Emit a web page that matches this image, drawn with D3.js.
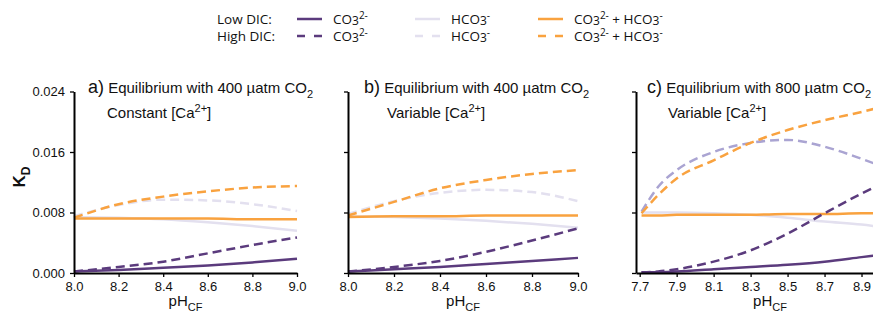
<!DOCTYPE html>
<html>
<head>
<meta charset="utf-8">
<script src="https://cdn.jsdelivr.net/npm/d3@7"></script>
<style>
  body { margin: 0; background: #fff; }
  svg { display: block; }
</style>
</head>
<body>
<svg id="chart" width="873" height="324"></svg>
<script>
// pH grids (x values) for each panel
const phAB = [8.0, 8.2, 8.4, 8.6, 8.8, 9.0];
const phC  = [7.71, 7.8, 7.9, 8.1, 8.3, 8.5, 8.7, 8.9, 9.0];

// a) 400 uatm, constant Ca
const co3LowA   = [0.0002, 0.0004, 0.0007, 0.0010, 0.0014, 0.0019];
const hco3LowA  = [0.0074, 0.0073, 0.0071, 0.0067, 0.0062, 0.0056];
const sumLowA   = [0.0072, 0.0072, 0.0072, 0.0072, 0.0071, 0.0071];
const co3HighA  = [0.0002, 0.0008, 0.0015, 0.0026, 0.0037, 0.0047];
const hco3HighA = [0.0075, 0.0090, 0.0097, 0.0096, 0.0091, 0.0082];
const sumHighA  = [0.0073, 0.0091, 0.0101, 0.0108, 0.0113, 0.0115];

// b) 400 uatm, variable Ca
const co3LowB   = [0.0002, 0.0005, 0.0008, 0.0012, 0.0016, 0.0020];
const hco3LowB  = [0.0075, 0.0074, 0.0072, 0.0069, 0.0065, 0.0060];
const sumLowB   = [0.0074, 0.0075, 0.0075, 0.0076, 0.0076, 0.0076];
const co3HighB  = [0.0002, 0.0008, 0.0016, 0.0028, 0.0043, 0.0059];
const hco3HighB = [0.0078, 0.0095, 0.0106, 0.0110, 0.0107, 0.0095];
const sumHighB  = [0.0076, 0.0094, 0.0112, 0.0123, 0.0131, 0.0136];

// c) 800 uatm, variable Ca
const co3LowC   = [0.0001, 0.0001, 0.0002, 0.0005, 0.0008, 0.0011, 0.0015, 0.0021, 0.0024];
const hco3LowC  = [0.0080, 0.0080, 0.0080, 0.0079, 0.0077, 0.0073, 0.0068, 0.0064, 0.0061];
const sumLowC   = [0.0076, 0.0076, 0.0077, 0.0077, 0.0077, 0.0078, 0.0078, 0.0079, 0.0079];
const co3HighC  = [0.0001, 0.0002, 0.0005, 0.0015, 0.0030, 0.0052, 0.0079, 0.0105, 0.0117];
const hco3HighC = [0.0081, 0.0114, 0.0136, 0.0160, 0.0172, 0.0176, 0.0167, 0.0151, 0.0142];
const sumHighC  = [0.0079, 0.0103, 0.0125, 0.0149, 0.0172, 0.0189, 0.0202, 0.0213, 0.0219];

const yTicks  = [0, 0.008, 0.016, 0.024];
const xTicksAB = [8.0, 8.2, 8.4, 8.6, 8.8, 9.0];
const xTicksC  = [7.7, 7.9, 8.1, 8.3, 8.5, 8.7, 8.9];

const PURPLE = "#5b3b7d";
const LAV    = "#e3e0ef";
const LAVMID = "#aaa4d2";
const ORANGE = "#f9a23f";
const FONT   = "'Liberation Sans', Arial, sans-serif";

const svg = d3.select("#chart");
const y = d3.scaleLinear().domain([0, 0.024]).range([273, 91.5]);

// text with sub/superscripts: parts = [[text, "n"|"sub"|"sup", size?], ...]
function rich(sel, parts, base) {
  let shift = 0;
  parts.forEach(([t, kind, size]) => {
    const target = kind === "sub" ? 0.3 * base : kind === "sup" ? -0.4 * base : 0;
    sel.append("tspan")
      .attr("dy", target - shift)
      .attr("font-size", size || (kind === "n" ? base : base * 0.72))
      .text(t);
    shift = target;
  });
  return sel;
}

const panels = [
  { x: phAB, domain: [8, 9], range: [74, 297], ticks: xTicksAB,
    tag: "a)", co2: "400", sub: "Constant [Ca", labels: true, hcoDash: LAV, tx: 14, sx: 33, lx: 0,
    s: [hco3HighA, hco3LowA, sumLowA, sumHighA, co3HighA, co3LowA] },
  { x: phAB, domain: [8, 9], range: [348, 578], ticks: xTicksAB,
    tag: "b)", co2: "400", sub: "Variable [Ca", labels: false, hcoDash: LAV, tx: 16, sx: 39, lx: 0,
    s: [hco3HighB, hco3LowB, sumLowB, sumHighB, co3HighB, co3LowB] },
  { x: phC, domain: [7.68, 9.0], range: [636, 880], ticks: xTicksC,
    tag: "c)", co2: "800", sub: "Variable [Ca", labels: false, hcoDash: LAVMID, tx: 11, sx: 32, lx: 12,
    s: [hco3HighC, hco3LowC, sumLowC, sumHighC, co3HighC, co3LowC] },
];

panels.forEach(p => {
  const x = d3.scaleLinear().domain(p.domain).range(p.range);
  const g = svg.append("g");
  const x0 = p.range[0];

  const styles = [
    { c: p.hcoDash, dash: "9,5" },
    { c: LAV,       dash: null },
    { c: ORANGE,    dash: null },
    { c: ORANGE,    dash: "9,5" },
    { c: PURPLE,    dash: "9,5" },
    { c: PURPLE,    dash: null },
  ];
  const line = d3.line().x((d, i) => x(p.x[i])).y(d => y(d)).curve(d3.curveMonotoneX);
  p.s.forEach((vals, k) => {
    g.append("path")
      .attr("d", line(vals))
      .attr("fill", "none")
      .attr("stroke", styles[k].c)
      .attr("stroke-width", 2.5)
      .attr("stroke-dasharray", styles[k].dash);
  });

  const yAxis = d3.axisLeft(y).tickValues(yTicks).tickSize(4).tickSizeOuter(0).tickPadding(5)
    .tickFormat(p.labels ? d3.format(".3f") : "");
  const ya = g.append("g").attr("transform", `translate(${x0},0)`).call(yAxis)
    .attr("font-family", FONT).attr("font-size", 13);
  ya.select(".domain").attr("stroke-width", 2);
  ya.selectAll(".tick line").attr("stroke-width", 1.3);
  ya.selectAll(".tick text").attr("fill", "#111");

  const xAxis = d3.axisBottom(x).tickValues(p.ticks).tickSize(4).tickSizeOuter(0).tickPadding(5)
    .tickFormat(d3.format(".1f"));
  const xa = g.append("g").attr("transform", "translate(0,273)").call(xAxis)
    .attr("font-family", FONT).attr("font-size", 13);
  xa.select(".domain").attr("stroke-width", 2);
  xa.selectAll(".tick line").attr("stroke-width", 1.3);
  xa.selectAll(".tick text").attr("fill", "#111");

  // panel title
  const t = g.append("text").attr("x", x0 + p.tx).attr("y", 93)
    .attr("font-family", FONT).attr("fill", "#111");
  rich(t, [[p.tag, "n", 18], [" Equilibrium with " + p.co2 + " \u00b5atm CO", "n"], ["2", "sub", 11]], 15);

  const st = g.append("text").attr("x", x0 + p.sx).attr("y", 118)
    .attr("font-family", FONT).attr("fill", "#111");
  rich(st, [[p.sub, "n"], ["2+", "sup", 11], ["]", "n"]], 15);

  // x title
  const xt = g.append("text").attr("x", (p.range[0] + p.range[1]) / 2 + p.lx).attr("y", 306)
    .attr("text-anchor", "middle")
    .attr("font-family", FONT).attr("fill", "#111");
  rich(xt, [["pH", "n"], ["CF", "sub", 11]], 15);
});

// y title
const yt = svg.append("text").attr("transform", "translate(25,177) rotate(-90)")
  .attr("text-anchor", "middle").attr("font-weight", "bold")
  .attr("font-family", FONT).attr("fill", "#111");
rich(yt, [["K", "n"], ["D", "sub", 12]], 17);

// legend
const legRows = [{ label: "Low DIC:", dash: null, y: 19 }, { label: "High DIC:", dash: "8,9", y: 36 }];
const legItems = [
  { c: PURPLE, x: 297, parts: [["CO", "n"], ["3", "sub", 12], ["2-", "sup", 10]] },
  { c: LAV,    x: 415, parts: [["HCO", "n"], ["3", "sub", 12], ["-", "sup", 10]] },
  { c: ORANGE, x: 538, parts: [["CO", "n"], ["3", "sub", 12], ["2-", "sup", 10], [" + HCO", "n"], ["3", "sub", 12], ["-", "sup", 10]] },
];
const leg = svg.append("g").attr("font-family", "'Open Sans', 'Noto Sans', sans-serif").attr("fill", "#111");
legRows.forEach(r => {
  leg.append("text").attr("x", 217).attr("y", r.y + 4.5).attr("font-size", 13.5).text(r.label);
  legItems.forEach(it => {
    leg.append("line").attr("x1", it.x).attr("x2", it.x + 25).attr("y1", r.y).attr("y2", r.y)
      .attr("stroke", it.c).attr("stroke-width", 2.5).attr("stroke-dasharray", r.dash);
    const tx = leg.append("text").attr("x", it.x + 36).attr("y", r.y + 4.5);
    let shift = 0;
    it.parts.forEach(([t, kind, size]) => {
      const target = kind === "sub" ? 1.5 : kind === "sup" ? -5 : 0;
      tx.append("tspan").attr("dy", target - shift).attr("font-size", size || 13.5).text(t);
      shift = target;
    });
  });
});
</script>
</body>
</html>
